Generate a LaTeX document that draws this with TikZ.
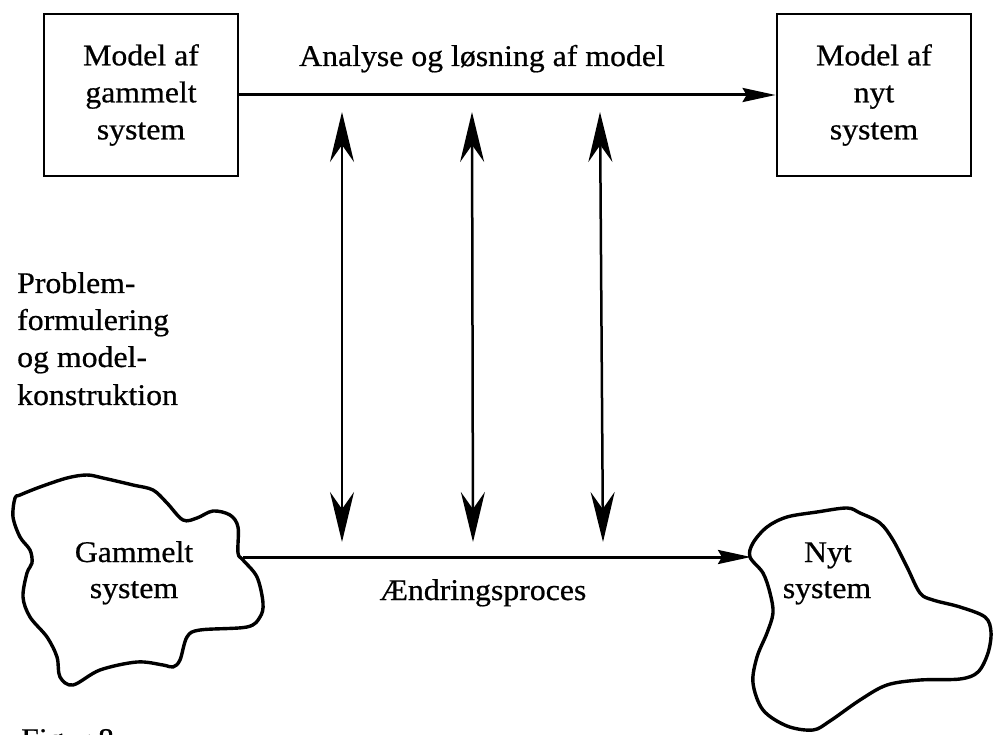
\documentclass[tikz,border=0pt]{standalone}
\usepackage{fontspec}
\setmainfont[FakeStretch=1.06,FakeBold=0.6]{Liberation Serif}
\usetikzlibrary{arrows.meta}
\begin{document}
\begin{tikzpicture}[x=1pt,y=-1pt,
  txt/.style={font=\fontsize{30}{37}\selectfont, inner sep=0pt},
  modelbox/.style={draw, line width=2.8pt, minimum width=194pt, minimum height=162pt, align=center, font=\fontsize{30}{37}\selectfont, inner sep=0pt},
  harrow/.style={line width=3pt, -{Stealth[length=33pt,width=14pt,inset=4pt]}},
  varrow/.style={line width=2.5pt, {Stealth[length=50pt,width=24pt,inset=17pt]}-{Stealth[length=50pt,width=24pt,inset=17pt]}},
  blob/.style={draw, line width=3.4pt, line join=round}
]
\useasboundingbox (0,0) rectangle (994,735);
\fill[white] (0,0) rectangle (994,735);

% model boxes
\node[modelbox] (lbox) at (141,95) {Model af\\gammelt\\system};
\node[modelbox] (rbox) at (874,95) {Model af\\nyt\\system};
\draw[harrow] (lbox.east) -- (rbox.west);
\node[txt, anchor=base] (analyse) at (482,66) {Analyse og løsning af model};

% left label
\node[txt, anchor=base west] (prob) at (17,293) {Problem-};
\node[txt, anchor=base west] (prob2) at (17,330) {formulering};
\node[txt, anchor=base west] (prob3) at (17,367) {og model-};
\node[txt, anchor=base west] (prob4) at (17,405) {konstruktion};

% blobs
\draw[blob] plot[smooth cycle, tension=0.55] coordinates {
 (15,498) (20,495) (40,487) (67,478) (87,475) (103,478) (133,485) (153,490)
 (167,503) (183,520) (197,518) (213,511) (230,515) (238,527) (238,553)
 (243,560) (257,577) (263,603) (260,617) (247,627) (200,630) (187,637)
 (180,660) (173,667) (163,665) (137,662) (100,670) (73,685) (60,677)
 (57,657) (47,637) (30,617) (23,597) (27,573) (32,563) (30,550) (20,537) (13,517)};
\draw[blob] plot[smooth cycle, tension=0.55] coordinates {
 (750,557) (753,543) (767,527) (787,517) (817,512) (847,508) (860,513)
 (880,523) (893,540) (907,567) (920,593) (933,600) (960,607) (985,617)
 (991,632) (988,653) (978,672) (960,679) (920,680) (887,685) (860,700)
 (830,721) (813,730) (787,726) (763,710) (753,683) (757,657) (767,633)
 (773,613) (770,593) (763,573)};

\node[txt, anchor=base] (gam1) at (134,562) {Gammelt};
\node[txt, anchor=base] (gam2) at (134,598) {system};
\node[txt, anchor=base] (nyt1) at (828,562) {Nyt};
\node[txt, anchor=base] (nyt2) at (827,598) {system};

\coordinate (gR) at (243,557);
\coordinate (nL) at (751,557);
\draw[harrow] (gR) -- (nL);
\node[txt, anchor=base] (aendr) at (483,600) {Ændringsproces};

% vertical double arrows
\coordinate (a1t) at (342,112); \coordinate (a1b) at (342,542);
\coordinate (a2t) at (472,112); \coordinate (a2b) at (473,542);
\coordinate (a3t) at (600,112); \coordinate (a3b) at (603,542);
\draw[varrow] (a1t) -- (a1b);
\draw[varrow] (a2t) -- (a2b);
\draw[varrow] (a3t) -- (a3b);

% caption (cut off at bottom, as in the reference)
\node[txt, anchor=base west] (cap) at (21,749) {Figur 8};
\end{tikzpicture}
\end{document}
